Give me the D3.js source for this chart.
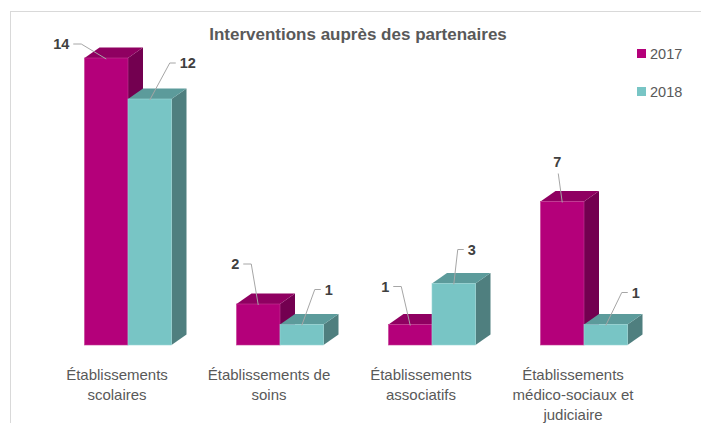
<!DOCTYPE html>
<html>
<head>
<meta charset="utf-8">
<script src="https://cdn.jsdelivr.net/npm/d3@7"></script>
<style>
  body { margin: 0; background: #fff; }
  svg { display: block; font-family: "Liberation Sans", Arial, sans-serif; }
</style>
</head>
<body>
<svg id="chart"></svg>
<script>
const width = 701;
const height = 423;

// data
const categories = [
    "Établissements scolaires",
    "Établissements de soins",
    "Établissements associatifs",
    "Établissements médico-sociaux et judiciaire"
];
const categoryLines = [
    ["Établissements", "scolaires"],
    ["Établissements de", "soins"],
    ["Établissements", "associatifs"],
    ["Établissements", "médico-sociaux et", "judiciaire"]
];
const seriesNames = ["2017", "2018"];
const values2017 = [14, 2, 1, 7];
const values2018 = [12, 1, 3, 1];
const title = "Interventions auprès des partenaires";

// label placement relative to the top of each bar [dx, dy]
const labelOffsets2017 = [[-45, -15], [-23, -41], [-25, -39], [-5, -41]];
const labelOffsets2018 = [[38, -37], [27, -36], [18, -35], [30, -33]];

const colors = {
    "2017": {front: "#b4007a", top: "#8f0061", side: "#730050", edge: "#c33a93"},
    "2018": {front: "#78c5c5", top: "#5c9b9b", side: "#4f7f7f", edge: "#9ad6d6"}
};

const depthX = 15;
const depthY = -10.5;

const svg = d3.select("#chart")
    .attr("width", width)
    .attr("height", height);

// chart frame
svg.append("rect")
    .attr("x", 10.5)
    .attr("y", 11.5)
    .attr("width", 720)
    .attr("height", 440)
    .attr("fill", "#fff")
    .attr("stroke", "#d9d9d9");

const x = d3.scaleBand()
    .domain(categories)
    .range([52, 660]);

const barW = 43.5;
const x1 = d3.scaleBand()
    .domain(seriesNames)
    .range([x.bandwidth() / 2 - barW, x.bandwidth() / 2 + barW]);

const y = d3.scaleLinear()
    .domain([0, 14])
    .range([345, 58]);

// title
svg.append("text")
    .attr("x", 358)
    .attr("y", 40)
    .attr("text-anchor", "middle")
    .attr("font-size", 17)
    .attr("font-weight", "bold")
    .attr("fill", "#595959")
    .text(title);

const bars = [];
categories.forEach((c, i) => {
    bars.push({cat: c, series: "2017", value: values2017[i], off: labelOffsets2017[i]});
    bars.push({cat: c, series: "2018", value: values2018[i], off: labelOffsets2018[i]});
});

const pts = arr => arr.map(p => p.join(",")).join(" ");

const barG = svg.append("g");
bars.forEach(d => {
    const x0 = x(d.cat) + x1(d.series);
    const xR = x0 + barW;
    const yt = y(d.value);
    const yb = y(0);
    const col = colors[d.series];
    const g = barG.append("g");
    // side face
    g.append("polygon")
        .attr("points", pts([[xR, yt], [xR + depthX, yt + depthY], [xR + depthX, yb + depthY], [xR, yb]]))
        .attr("fill", col.side);
    // top face
    g.append("polygon")
        .attr("points", pts([[x0, yt], [xR, yt], [xR + depthX, yt + depthY], [x0 + depthX, yt + depthY]]))
        .attr("fill", col.top);
    // front face
    g.append("rect")
        .attr("x", x0)
        .attr("y", yt)
        .attr("width", barW)
        .attr("height", yb - yt)
        .attr("fill", col.front)
        .attr("stroke", col.edge)
        .attr("stroke-width", 0.6);
});

// data labels with leader lines
const labelG = svg.append("g");
bars.forEach(d => {
    const ax = x(d.cat) + x1(d.series) + barW / 2;
    const ay = y(d.value) + 1;
    const lx = ax + d.off[0];
    const ly = ay + d.off[1];
    const txt = String(d.value);
    const halfW = txt.length * 4;
    let path;
    if (Math.abs(d.off[0]) < 10) {
        path = [[lx + 1, ly + 12], [ax, ay]];
    } else if (d.off[0] < 0) {
        const s = lx + halfW + 4;
        path = [[s, ly], [s + 8, ly], [ax, ay]];
    } else {
        const s = lx - halfW - 4;
        path = [[s, ly], [s - 6, ly], [ax, ay]];
    }
    labelG.append("path")
        .attr("d", d3.line()(path))
        .attr("fill", "none")
        .attr("stroke", "#a6a6a6")
        .attr("stroke-width", 1);
    labelG.append("text")
        .attr("x", lx)
        .attr("y", ly)
        .attr("text-anchor", "middle")
        .attr("dominant-baseline", "central")
        .attr("font-size", 14.5)
        .attr("font-weight", "bold")
        .attr("fill", "#404040")
        .text(txt);
});

// category labels
categories.forEach((c, i) => {
    const cx = x(c) + x.bandwidth() / 2 - 11;
    const t = svg.append("text")
        .attr("text-anchor", "middle")
        .attr("font-size", 15)
        .attr("fill", "#595959");
    categoryLines[i].forEach((line, j) => {
        t.append("tspan")
            .attr("x", cx)
            .attr("y", 380 + j * 20)
            .text(line);
    });
});

// legend
const legend = svg.append("g");
seriesNames.forEach((s, i) => {
    legend.append("rect")
        .attr("x", 637)
        .attr("y", 49 + i * 38)
        .attr("width", 9)
        .attr("height", 9)
        .attr("fill", colors[s].front);
    legend.append("text")
        .attr("x", 650)
        .attr("y", 59 + i * 38)
        .attr("font-size", 14.5)
        .attr("fill", "#595959")
        .text(s);
});
</script>
</body>
</html>
